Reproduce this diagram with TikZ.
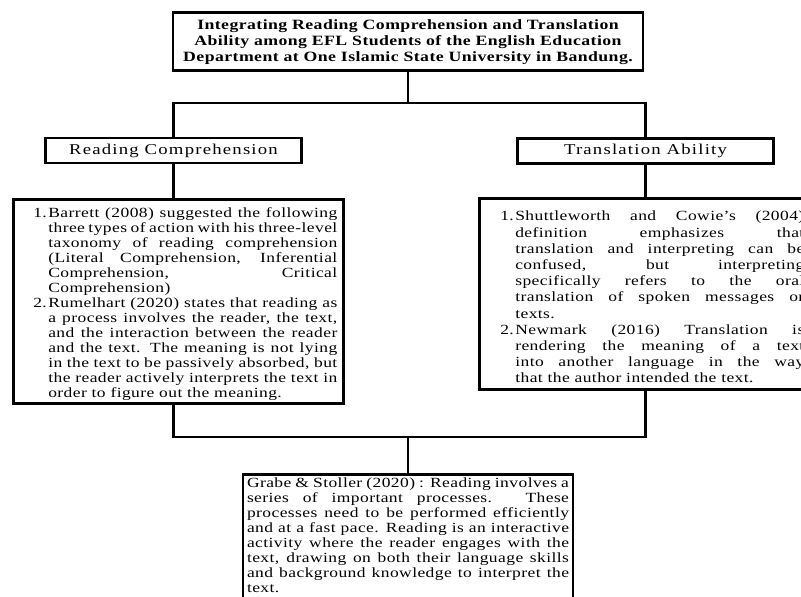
\documentclass[tikz,border=0pt]{standalone}
\usepackage{fontspec}
\setmainfont{Liberation Serif}[FakeStretch=1.25,LetterSpace=3]
\usetikzlibrary{calc}

\newcommand{\numitem}[1]{\par\noindent\hangindent=15pt\hangafter=1\hbox to 15pt{#1\hfil}}
\newcommand{\listsetup}[2]{\fontsize{14}{#2}\selectfont\leftskip=#1\rightskip=0pt\parfillskip=0pt plus 1fil
  \tolerance=10000\hyphenpenalty=10000\exhyphenpenalty=10000\hfuzz=4pt}

\begin{document}
\begin{tikzpicture}[x=1pt,y=-1pt,
    box/.style={draw,line width=2.6pt,inner sep=0pt},
    headbox/.style={box,minimum width=256pt,minimum height=25pt,font=\fontsize{15}{15}\selectfont\addfontfeatures{LetterSpace=8}},
    textbox/.style={box,anchor=north west,inner xsep=6pt,align=justify},
    link/.style={line width=2.6pt}]
    \useasboundingbox (0,0) rectangle (801,597);
    \clip (0,0) rectangle (801,597);

    \node[box,minimum width=470pt,minimum height=58pt,align=center,font=\fontsize{14.2}{16}\selectfont\bfseries] (title) at (408,41.7)
        {Integrating Reading Comprehension and Translation\\ Ability among EFL Students of the English Education\\ Department at One Islamic State University in Bandung.};

    \node[headbox] (rc) at (173.5,150.5) {Reading Comprehension};
    \node[headbox] (ta) at (645.5,151) {Translation Ability};

    \node[textbox,text width=318pt,minimum width=330pt,minimum height=204pt] (rcbox) at (12,198) {\listsetup{14pt}{15}%
        \numitem{1.}Barrett (2008) suggested the following\linebreak three types of action with his three-level\linebreak taxonomy of reading comprehension\linebreak (Literal Comprehension, Inferential\linebreak Comprehension, Critical\linebreak Comprehension)
        \numitem{2.}Rumelhart (2020) states that reading as\linebreak a process involves the reader, the text,\linebreak and the interaction between the reader\linebreak and the text. The meaning is not lying\linebreak in the text to be passively absorbed, but\linebreak the reader actively interprets the text in\linebreak order to figure out the meaning.\par};

    \node[textbox,text width=319pt,minimum width=331pt,minimum height=191pt] (tabox) at (478,197) {\listsetup{15pt}{16.2}%
        \numitem{1.}Shuttleworth and Cowie's (2004)\linebreak definition emphasizes that\linebreak translation and interpreting can be\linebreak confused, but interpreting\linebreak specifically refers to the oral\linebreak translation of spoken messages or\linebreak texts.
        \numitem{2.}Newmark (2016) Translation is\linebreak rendering the meaning of a text\linebreak into another language in the way\linebreak that the author intended the text.\par};

    \node[textbox,anchor=north,text width=322pt,inner xsep=4pt,inner ysep=3pt] (grabe) at (408,473) {\listsetup{0pt}{15}\noindent
        Grabe \& Stoller (2020) : Reading involves a\linebreak series of important processes. These\linebreak processes need to be performed efficiently\linebreak and at a fast pace. Reading is an interactive\linebreak activity where the reader engages with the\linebreak text, drawing on both their language skills\linebreak and background knowledge to interpret the\linebreak text.\\[14pt]\mbox{}\par};

    \coordinate (split) at (408,103);
    \coordinate (merge) at (408,437);

    \draw[link] (title) -- (split);
    \draw[link] (rc.north) |- (split) -| (ta.north);
    \draw[link] (rc.south) -- (rc.south |- rcbox.north);
    \draw[link] (ta.south) -- (ta.south |- tabox.north);
    \draw[link] (rc.south |- rcbox.south) |- (merge) -| (ta.south |- tabox.south);
    \draw[link] (merge) -- (grabe.north);

\end{tikzpicture}
\end{document}
